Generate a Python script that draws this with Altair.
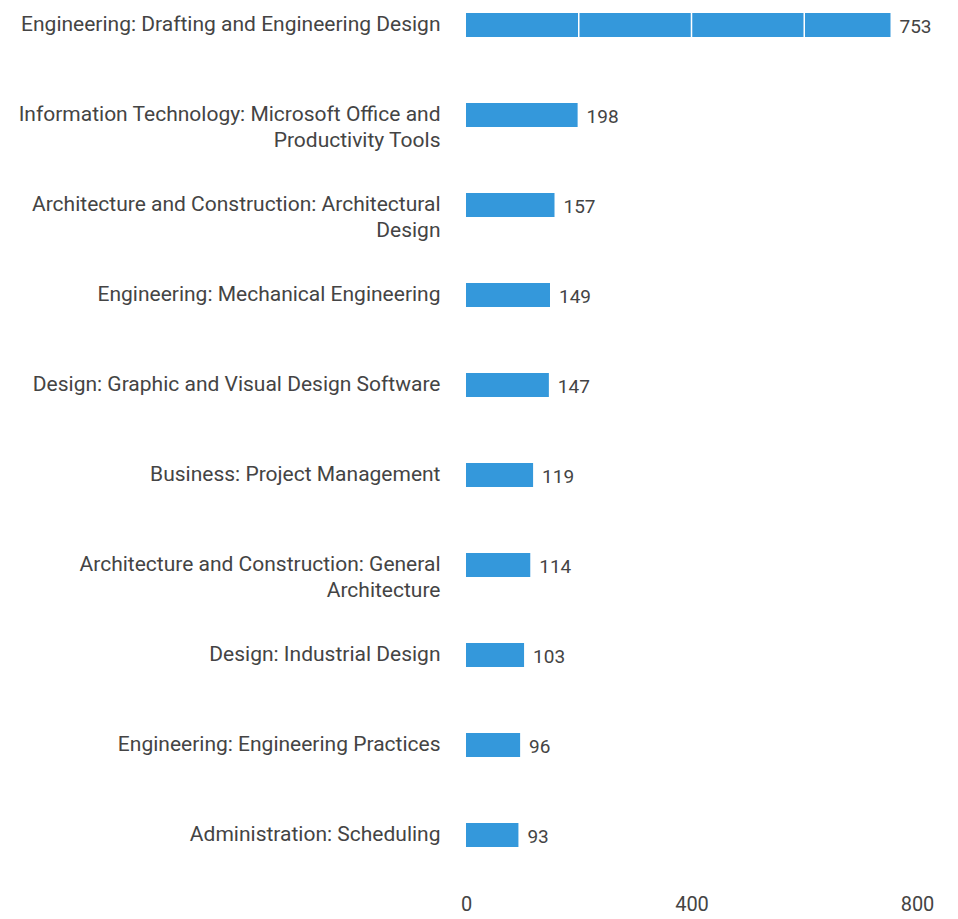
import altair as alt
import pandas as pd

categories = [
    "Engineering: Drafting and Engineering Design",
    "Information Technology: Microsoft Office and\nProductivity Tools",
    "Architecture and Construction: Architectural\nDesign",
    "Engineering: Mechanical Engineering",
    "Design: Graphic and Visual Design Software",
    "Business: Project Management",
    "Architecture and Construction: General\nArchitecture",
    "Design: Industrial Design",
    "Engineering: Engineering Practices",
    "Administration: Scheduling",
]
values = [753, 198, 157, 149, 147, 119, 114, 103, 96, 93]
x_ticks = [0, 200, 400, 600, 800]
grid_values = [200, 400, 600]

df = pd.DataFrame({"category": categories, "value": values})
grid_df = pd.DataFrame({"g": grid_values})

x_scale = alt.Scale(domain=[0, 800], nice=False)

y_enc = alt.Y(
    "category:N",
    sort=categories,
    title=None,
    scale=alt.Scale(paddingInner=0.733, paddingOuter=0.055),
    axis=alt.Axis(
        labelExpr="split(datum.label, '\\n')",
        labelFont="Roboto",
        labelFontSize=21,
        labelColor="#444444",
        labelLineHeight=26,
        labelPadding=26,
        labelLimit=600,
        ticks=False,
        domain=False,
        grid=False,
    ),
)

bars = alt.Chart(df).mark_bar(color="#3498db").encode(
    x=alt.X(
        "value:Q",
        title=None,
        scale=x_scale,
        axis=alt.Axis(
            values=x_ticks,
            labelExpr="datum.value % 400 == 0 ? datum.label : ''",
            labelFont="Roboto",
            labelFontSize=20,
            labelColor="#444444",
            labelFlush=False,
            ticks=False,
            domain=False,
            grid=False,
            offset=40,
            labelPadding=2,
        ),
    ),
    y=y_enc,
)

grid = alt.Chart(grid_df).mark_rule(color="#ffffff", strokeWidth=1.5).encode(
    x=alt.X("g:Q", scale=x_scale),
)

texts = alt.Chart(df).mark_text(
    align="left", baseline="middle", dx=9, dy=2, font="Roboto", fontSize=19,
    color="#444444"
).encode(
    x="value:Q",
    y=alt.Y("category:N", sort=categories),
    text="value:Q",
)

chart = (bars + grid + texts).properties(
    width=451,
    height=844,
    autosize=alt.AutoSizeParams(type="none"),
    padding={"left": 458, "top": 0, "right": 25, "bottom": 64},
).configure_view(stroke=None)

chart.save("out.html", embed_options={"renderer": "svg", "actions": False})
